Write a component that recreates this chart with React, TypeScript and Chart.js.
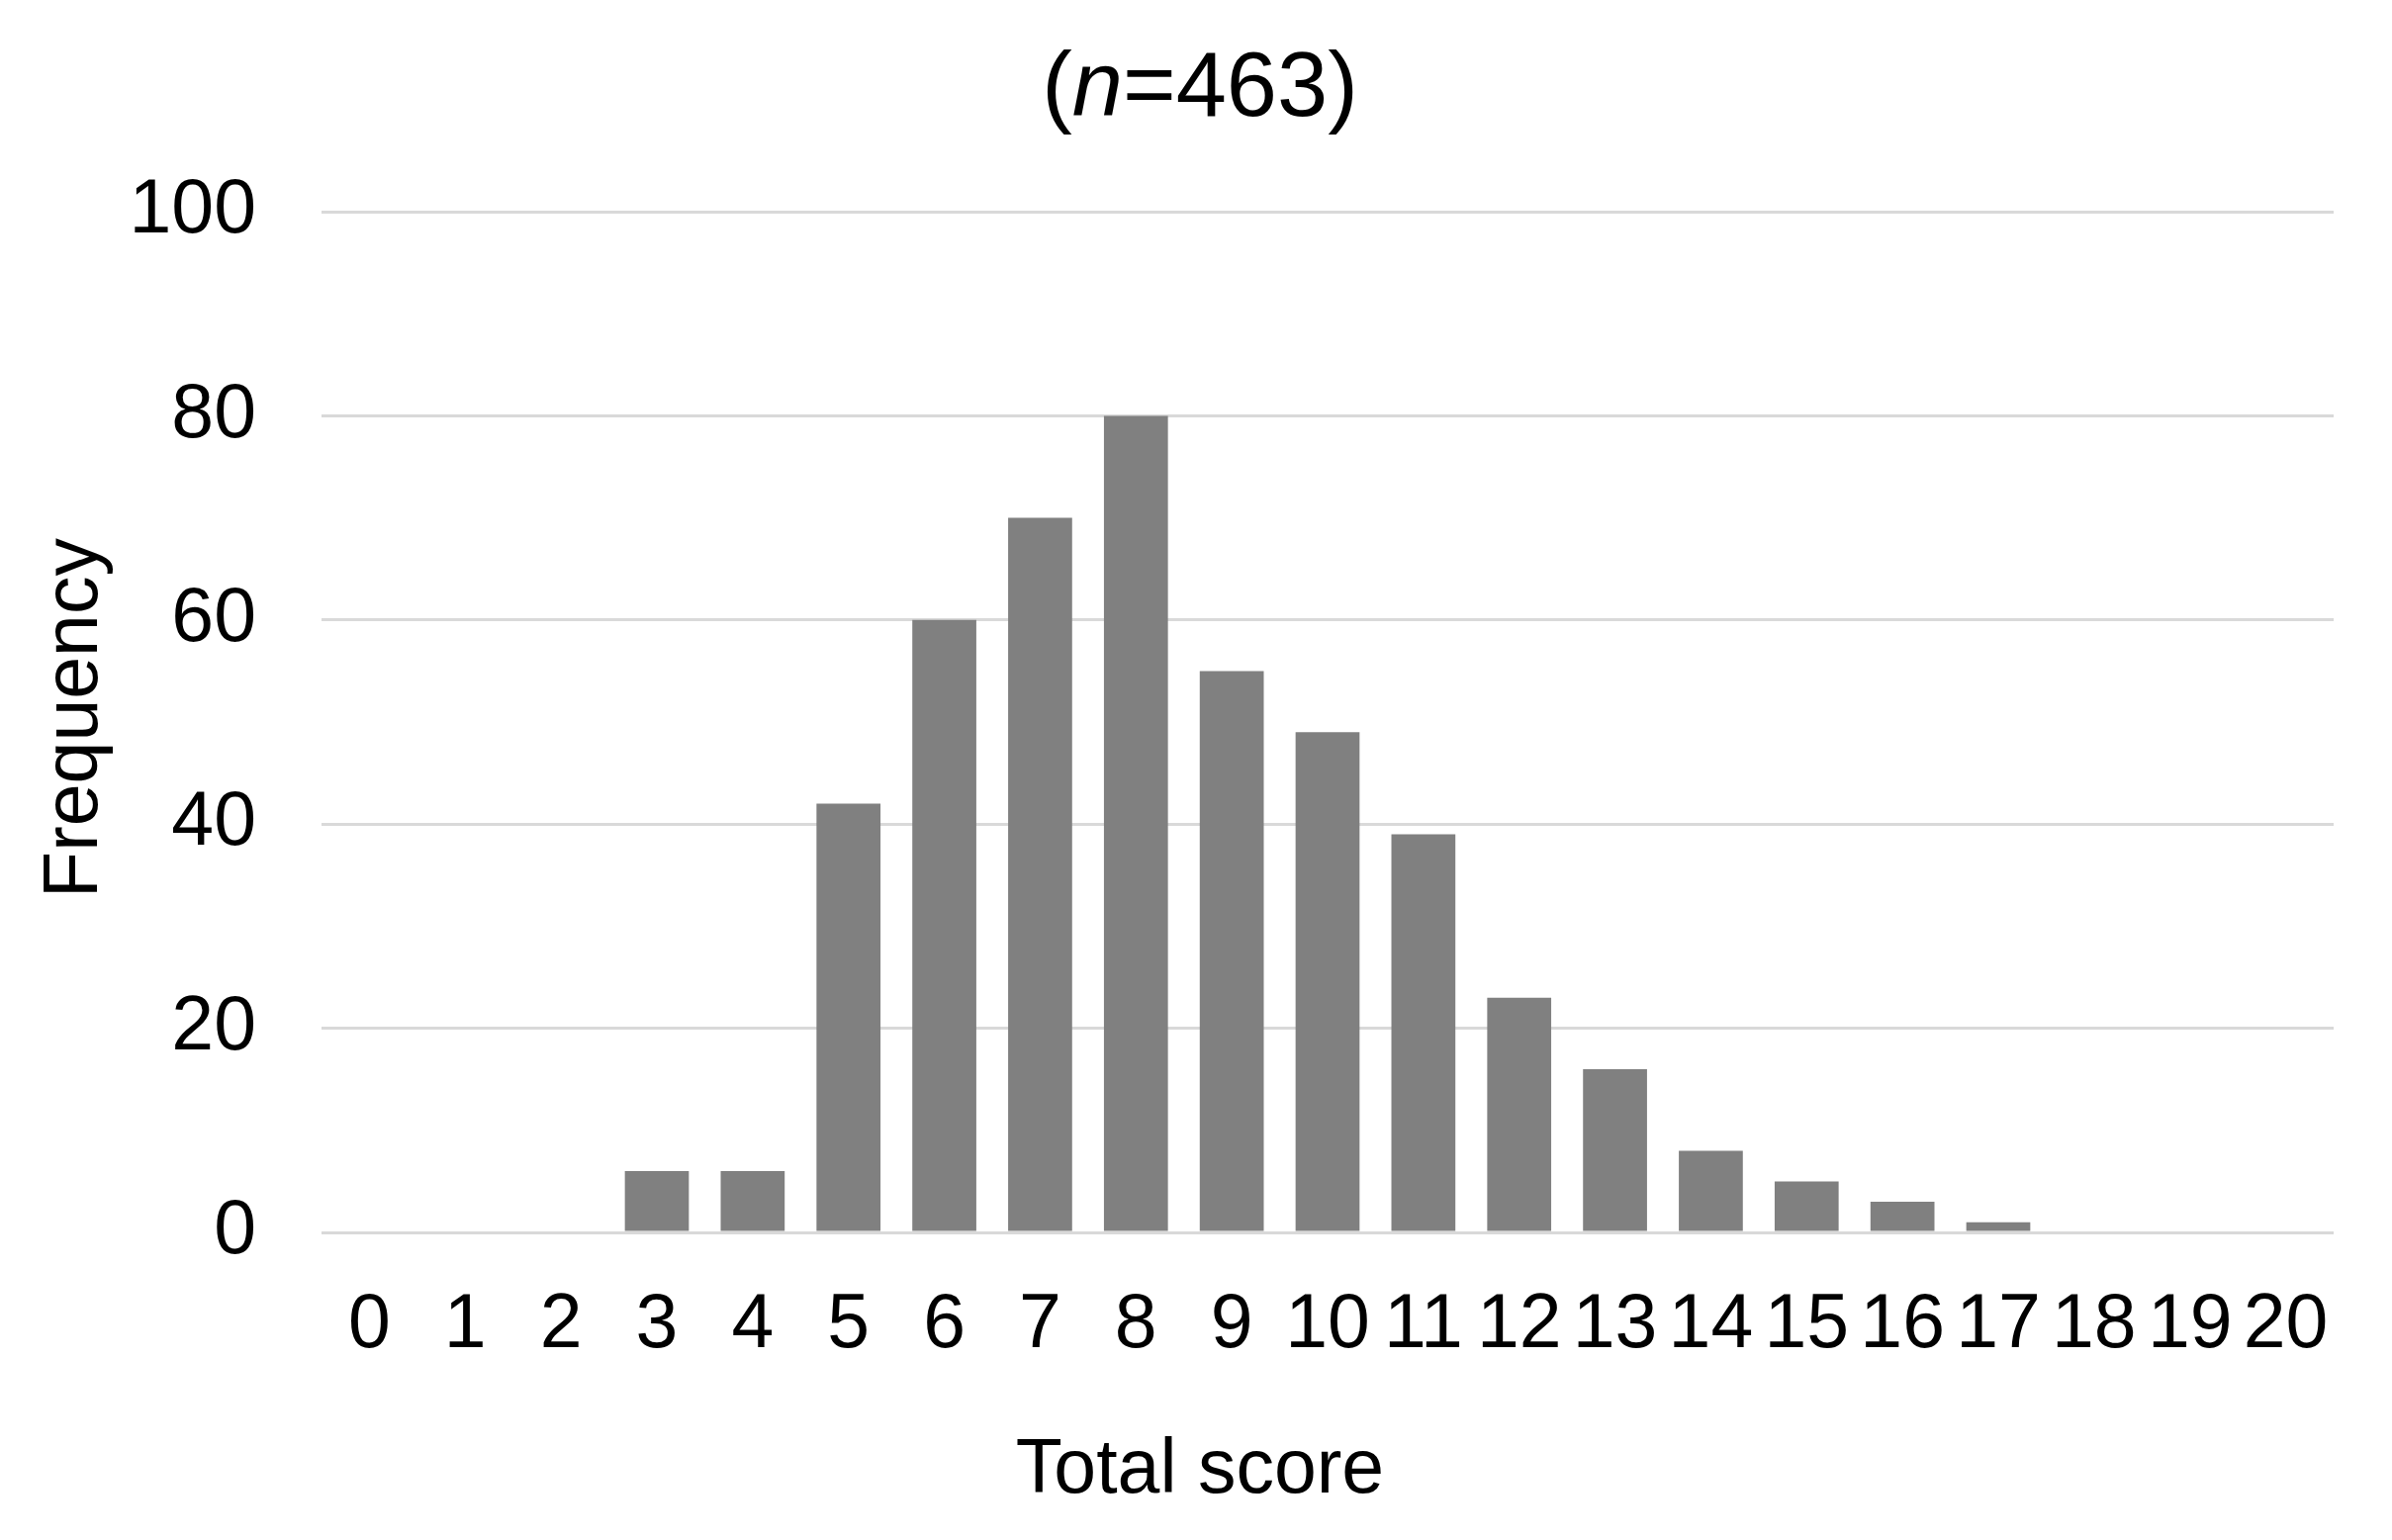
import React, { useEffect, useRef } from "react";
import { Chart, registerables } from "chart.js";

Chart.register(...registerables);

const categories: string[] = ["0", "1", "2", "3", "4", "5", "6", "7", "8", "9", "10", "11", "12", "13", "14", "15", "16", "17", "18", "19", "20"];
const frequencies: number[] = [0, 0, 0, 6, 6, 42, 60, 70, 80, 55, 49, 39, 23, 16, 8, 5, 3, 1, 0, 0, 0];
const titleParts = ["(", "n", "=463)"];
const xTitle = "Total score";
const yTitle = "Frequency";
const yMin = 0;
const yMax = 100;
const yStep = 20;

const FONT = "'Liberation Sans', Arial, sans-serif";

const titlesPlugin = {
  id: "customTitles",
  afterDraw(chart: any) {
    const ctx = chart.ctx;
    const W = chart.width;
    ctx.save();
    ctx.fillStyle = "#000";
    ctx.textBaseline = "alphabetic";
    const normal = `92px ${FONT}`;
    const italic = `italic 92px ${FONT}`;
    const fonts = [normal, italic, normal];
    let total = 0;
    const widths = titleParts.map((p, i) => {
      ctx.font = fonts[i];
      const w = ctx.measureText(p).width;
      total += w;
      return w;
    });
    let x = W / 2 - total / 2 + 4;
    ctx.textAlign = "left";
    titleParts.forEach((p, i) => {
      ctx.font = fonts[i];
      ctx.fillText(p, x, 117);
      x += widths[i];
    });
    ctx.font = `77px ${FONT}`;
    ctx.textAlign = "center";
    ctx.fillText(xTitle, W / 2 + 4, 1509);
    ctx.translate(98, 726);
    ctx.rotate(-Math.PI / 2);
    ctx.textAlign = "center";
    ctx.fillText(yTitle, 0, 0);
    ctx.restore();
  },
};

export default function App() {
  const ref = useRef<HTMLCanvasElement | null>(null);
  useEffect(() => {
    document.body.style.margin = "0";
    const canvas = ref.current!;
    const chart = new Chart(canvas, {
      type: "bar",
      data: {
        labels: categories,
        datasets: [
          {
            data: frequencies,
            backgroundColor: "#808080",
            borderWidth: 0,
            barPercentage: 0.668,
            categoryPercentage: 1,
          },
        ],
      },
      options: {
        animation: false,
        responsive: false,
        devicePixelRatio: 1,
        layout: { padding: { left: 0, right: 59, top: 214, bottom: 111 } },
        plugins: { legend: { display: false }, tooltip: { enabled: false }, title: { display: false } },
        scales: {
          x: {
            grid: { display: false, drawTicks: false },
            border: { display: false },
            ticks: { color: "#000", font: { family: FONT, size: 77 }, padding: 49, maxRotation: 0, autoSkip: false },
            afterFit: (s: any) => { s.height = 200; },
          },
          y: {
            min: yMin,
            max: yMax,
            grid: { color: "#d9d9d9", lineWidth: 3, drawTicks: false },
            border: { display: false },
            ticks: { stepSize: yStep, color: "#000", font: { family: FONT, size: 77 }, padding: 66 },
            afterFit: (s: any) => { s.width = 325; },
          },
        },
      },
      plugins: [titlesPlugin],
    });
    return () => chart.destroy();
  }, []);
  return (
    <div style={{ position: "absolute", left: 0, top: 0, width: 2418, height: 1557, background: "#fff" }}>
      <canvas ref={ref} width={2418} height={1557} style={{ width: 2418, height: 1557, display: "block" }} />
    </div>
  );
}
